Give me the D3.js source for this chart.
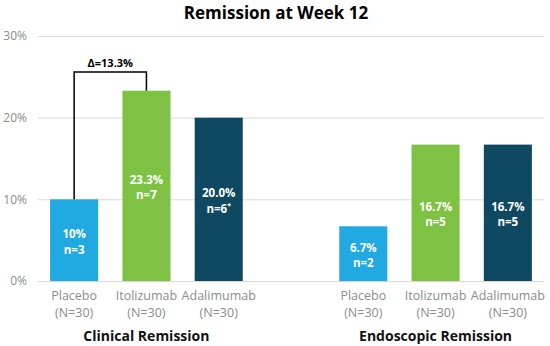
<!DOCTYPE html>
<html><head><meta charset="utf-8">
<script src="https://cdn.jsdelivr.net/npm/d3@7"></script>
<style>body{margin:0;background:#fff;}svg{display:block;}</style>
</head><body>
<script>
const categories = ["Placebo","Itolizumab","Adalimumab","","Placebo","Itolizumab","Adalimumab"];
const subLabels = ["(N=30)","(N=30)","(N=30)","","(N=30)","(N=30)","(N=30)"];
const values = [10, 23.3, 20.0, null, 6.7, 16.7, 16.7];
const valueLabels = ["10%","23.3%","20.0%","","6.7%","16.7%","16.7%"];
const nLabels = ["n=3","n=7","n=6","","n=2","n=5","n=5"];
const nSup = ["","","*","","","",""];
const groups = ["Clinical Remission","Endoscopic Remission"];
const groupCenters = [1, 5];
const yTicks = [0,10,20,30];
const bracket = {from:0, to:1, level:25.6, label:"Δ=13.3%"};
const colors = ["#21a9e1","#7dc242","#0e4961"];

const W=550,H=346;
const svg=d3.select("body").append("svg").attr("width",W).attr("height",H);
const font="'Open Sans', 'DejaVu Sans', sans-serif";
const x=d3.scaleBand().domain(d3.range(categories.length)).range([38,544]).paddingInner(0.335).paddingOuter(0.1675);
const y=d3.scaleLinear().domain([0,30]).range([281,36]);

svg.append("text").attr("x",276).attr("y",19).attr("text-anchor","middle")
 .attr("font-family",font).attr("font-weight","bold").attr("font-size",17).attr("fill","#000").text("Remission at Week 12");

const yAxis=svg.append("g").attr("transform","translate(38,0)")
 .call(d3.axisLeft(y).tickValues(yTicks).tickSize(-(544-38)).tickFormat(d=>d+"%"));
yAxis.select(".domain").remove();
yAxis.selectAll(".tick line").attr("stroke","#d9d9d9").attr("stroke-width",1);
yAxis.selectAll(".tick text").attr("x",-11).attr("fill","#8c8c8c").attr("font-family",font).attr("font-size",12);

const idx=d3.range(categories.length).filter(i=>values[i]!=null);
svg.selectAll("rect.bar").data(idx).join("rect").attr("class","bar")
 .attr("x",i=>x(i)).attr("width",x.bandwidth())
 .attr("y",i=>y(values[i])).attr("height",i=>y(0)-y(values[i]))
 .attr("fill",i=>colors[i%4]);

idx.forEach(i=>{
  const cx=x(i)+x.bandwidth()/2, mid=(y(values[i])+y(0))/2;
  svg.append("text").attr("x",cx).attr("y",mid-2).attr("text-anchor","middle")
   .attr("font-family",font).attr("font-weight","bold").attr("font-size",11.5).attr("fill","#fff").text(valueLabels[i]);
  const t=svg.append("text").attr("x",cx).attr("y",mid+13.5).attr("text-anchor","middle")
   .attr("font-family",font).attr("font-weight","bold").attr("font-size",11.5).attr("fill","#fff").text(nLabels[i]);
  if(nSup[i]) t.append("tspan").attr("font-size",7).attr("dy",-5).text(nSup[i]);
  svg.append("text").attr("x",cx).attr("y",300).attr("text-anchor","middle")
   .attr("font-family",font).attr("font-size",12.5).attr("fill","#8c8c8c").text(categories[i]);
  svg.append("text").attr("x",cx).attr("y",317).attr("text-anchor","middle")
   .attr("font-family",font).attr("font-size",12.5).attr("fill","#8c8c8c").text(subLabels[i]);
});

groups.forEach((g,k)=>{
  svg.append("text").attr("x",x(groupCenters[k])+x.bandwidth()/2).attr("y",341).attr("text-anchor","middle")
   .attr("font-family",font).attr("font-weight","bold").attr("font-size",14).attr("fill","#111").text(g);
});

const bx1=x(bracket.from)+x.bandwidth()/2, bx2=x(bracket.to)+x.bandwidth()/2, by=y(bracket.level);
svg.append("path").attr("d",`M${bx1},${y(values[bracket.from])}V${by}H${bx2}V${y(values[bracket.to])}`)
 .attr("fill","none").attr("stroke","#000").attr("stroke-width",1.5);
svg.append("text").attr("x",(bx1+bx2)/2).attr("y",by-5).attr("text-anchor","middle")
 .attr("font-family",font).attr("font-weight","bold").attr("font-size",11).attr("fill","#000").text(bracket.label);
</script>
</body></html>
